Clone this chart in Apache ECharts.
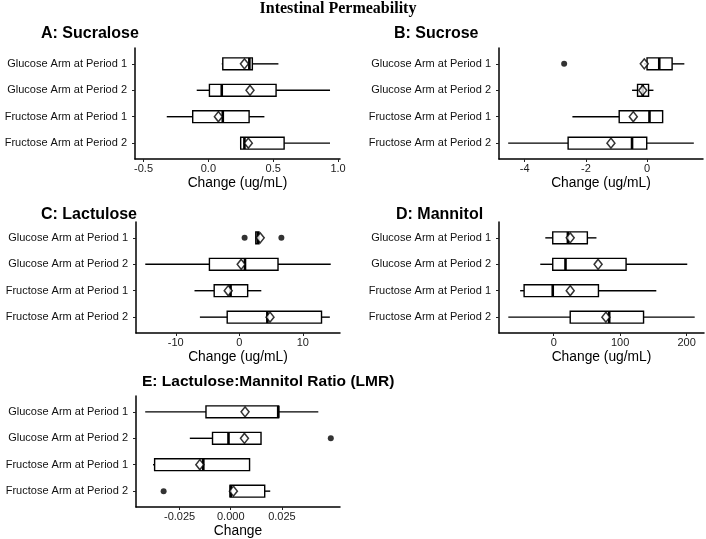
<!DOCTYPE html>
<html><head><meta charset="utf-8">
<script src="https://cdn.jsdelivr.net/npm/echarts@6/dist/echarts.min.js"></script>
<style>html,body{margin:0;padding:0;background:#fff}#c{width:706px;height:539px}</style>
</head><body><div id="c"></div>
<script>
// Categories (top to bottom)
const categories = ['Glucose Arm at Period 1','Glucose Arm at Period 2','Fructose Arm at Period 1','Fructose Arm at Period 2'];

// Box stats per category: [min whisker, Q1, median, Q3, max whisker]
const sucraloseBox = [[0.103,0.111,0.316,0.339,0.540],[-0.090,0.008,0.103,0.522,0.938],[-0.321,-0.121,0.111,0.314,0.432],[0.249,0.249,0.278,0.584,0.938]];
const sucraloseMean = [0.278,0.321,0.077,0.308];
const sucraloseOut = [];

const sucroseBox = [[-0.10,0.00,0.40,0.82,1.22],[-0.49,-0.31,-0.14,0.05,0.21],[-2.44,-0.91,0.08,0.51,0.51],[-4.54,-2.58,-0.49,-0.01,1.53]];
const sucroseMean = [-0.09,-0.14,-0.45,-1.18];
const sucroseOut = [[-2.71,1]];

const lactuloseBox = [[2.6,2.6,2.9,3.1,3.1],[-14.8,-4.7,0.9,6.1,14.4],[-7.05,-3.95,-1.37,1.32,3.47],[-6.2,-1.9,4.42,12.95,14.26]];
const lactuloseMean = [3.3,0.3,-1.74,4.84];
const lactuloseOut = [[0.84,1],[6.63,1]];

const mannitolBox = [[-12.7,-1.5,21.3,50.6,64.3],[-20.3,-1.5,17.7,108.9,201],[-50.6,-44.6,-1.5,67.3,154.4],[-68.4,24.8,83.5,135.2,212.2]];
const mannitolMean = [24.8,66.8,24.8,78.5];
const mannitolOut = [];

const lmrBox = [[-0.0418,-0.0121,0.0232,0.0234,0.0428],[-0.0200,-0.0089,-0.0011,0.0148,0.0148],[-0.0380,-0.0372,-0.0134,0.0092,0.0092],[-0.0003,-0.0003,0.0000,0.0166,0.0193]];
const lmrMean = [0.0070,0.0067,-0.0151,0.0013];
const lmrOut = [[0.0489,2],[-0.0328,4]];

// Tick labels
const ticksA = [-0.5,0,0.5,1.0];
const ticksB = [-4,-2,0];
const ticksC = [-10,0,10];
const ticksD = [0,100,200];
const ticksE = [-0.025,0,0.025];

const panelTitles = ['A: Sucralose','B: Sucrose','C: Lactulose','D: Mannitol','E: Lactulose:Mannitol Ratio (LMR)'];
const axisTitles = ['Change (ug/mL)','Change (ug/mL)','Change (ug/mL)','Change (ug/mL)','Change'];
const mainTitle = 'Intestinal Permeability';

const panels = [
  {box:sucraloseBox, mean:sucraloseMean, out:sucraloseOut, ticks:ticksA, dec:1, min:-0.566, max:1.015, grid:{left:135,top:48,width:205,height:111}},
  {box:sucroseBox, mean:sucroseMean, out:sucroseOut, ticks:ticksB, dec:0, min:-4.84, max:1.83, grid:{left:499,top:48,width:204,height:111}},
  {box:lactuloseBox, mean:lactuloseMean, out:lactuloseOut, ticks:ticksC, dec:0, min:-16.26, max:15.86, grid:{left:136,top:222,width:204,height:111}},
  {box:mannitolBox, mean:mannitolMean, out:mannitolOut, ticks:ticksD, dec:0, min:-82.4, max:226.2, grid:{left:499,top:222,width:205,height:111}},
  {box:lmrBox, mean:lmrMean, out:lmrOut, ticks:ticksE, dec:3, min:-0.0463, max:0.0534, grid:{left:136,top:396,width:204,height:111}}
];

const FONT = 'Liberation Sans';
const grids=[], xAxes=[], yAxes=[], series=[];
panels.forEach((p,i)=>{
  grids.push(Object.assign({containLabel:false}, p.grid));
  xAxes.push({
    type:'value', gridIndex:i, min:p.min, max:p.max,
    name:axisTitles[i], nameLocation:'middle', nameGap:17,
    nameTextStyle:{fontFamily:FONT, fontSize:13.8, color:'#000'},
    axisLine:{show:true, onZero:false, lineStyle:{color:'#000', width:1.5}},
    axisTick:{show:true, length:3, customValues:p.ticks, lineStyle:{color:'#222', width:1}},
    axisLabel:{customValues:p.ticks, margin:4, fontFamily:FONT, fontSize:11, color:'#1a1a1a',
      formatter:(v)=>Number(v).toFixed(p.dec)},
    splitLine:{show:false}
  });
  yAxes.push({
    type:'value', gridIndex:i, min:0.4, max:4.6, inverse:true,
    axisLine:{show:true, onZero:false, lineStyle:{color:'#000', width:1.5}},
    axisTick:{show:true, length:3, customValues:[1,2,3,4], lineStyle:{color:'#222', width:1}},
    axisLabel:{customValues:[1,2,3,4], margin:8, fontFamily:FONT, fontSize:11, color:'#111',
      formatter:(v)=>categories[Math.round(v)-1]},
    splitLine:{show:false}
  });
  series.push({
    type:'custom', xAxisIndex:i, yAxisIndex:i, z:2,
    data:p.box.map((b,k)=>[k+1].concat(b)),
    encode:{x:[1,2,3,4,5], y:0},
    renderItem:(params, api)=>{
      const row=api.value(0);
      const lo=api.coord([api.value(1),row]), q1=api.coord([api.value(2),row]),
            md=api.coord([api.value(3),row]), q3=api.coord([api.value(4),row]),
            hi=api.coord([api.value(5),row]);
      const h=api.size([0,0.45])[1];
      const y=lo[1];
      const ls={stroke:'#000', lineWidth:1.4, fill:null};
      return {type:'group', children:[
        {type:'line', shape:{x1:lo[0],y1:y,x2:q1[0],y2:y}, style:ls},
        {type:'line', shape:{x1:q3[0],y1:y,x2:hi[0],y2:y}, style:ls},
        {type:'rect', shape:{x:q1[0],y:y-h/2,width:q3[0]-q1[0],height:h}, style:{fill:'#fff',stroke:'#000',lineWidth:1.4}},
        {type:'line', shape:{x1:md[0],y1:y-h/2,x2:md[0],y2:y+h/2}, style:{stroke:'#000',lineWidth:2.6}}
      ]};
    }
  });
  series.push({
    type:'scatter', xAxisIndex:i, yAxisIndex:i, z:4,
    data:p.mean.map((m,k)=>[m,k+1]),
    symbol:'diamond', symbolSize:[8,10],
    itemStyle:{color:'#fff', borderColor:'#000', borderWidth:1.5}
  });
  if(p.out.length){
    series.push({
      type:'scatter', xAxisIndex:i, yAxisIndex:i, z:3,
      data:p.out.map(o=>[o[0],o[1]]),
      symbol:'circle', symbolSize:6,
      itemStyle:{color:'#000'}
    });
  }
});

const titlePos = [[41,34],[394,34],[41,215],[396,215],[142,382]];
const graphics = [{type:'text', x:338, y:9, style:{text:mainTitle, fontFamily:'Liberation Serif', fontWeight:'bold', fontSize:16, fill:'#000', align:'center', verticalAlign:'middle'}}];
panelTitles.forEach((t,i)=>{
  graphics.push({type:'text', x:titlePos[i][0], y:titlePos[i][1], style:{text:t, fontFamily:FONT, fontWeight:'bold', fontSize:(i===4?15.5:16), fill:'#000', align:'left', verticalAlign:'middle'}});
});

const chart = echarts.init(document.getElementById('c'), null, {renderer:'canvas'});
chart.setOption({
  animation:false,
  backgroundColor:'#fff',
  grid:grids, xAxis:xAxes, yAxis:yAxes, series:series,
  graphic:graphics
});
</script></body></html>
